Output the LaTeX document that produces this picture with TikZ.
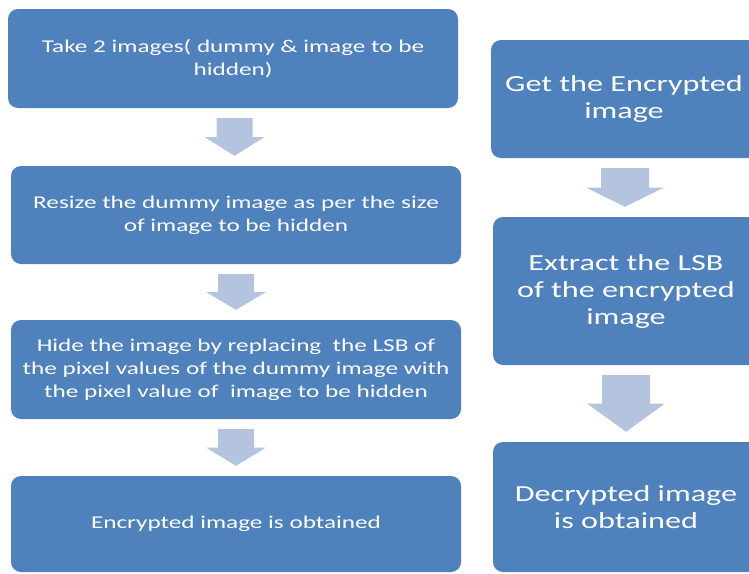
\documentclass[tikz,border=0pt]{standalone}
\usepackage{fontspec}
\setmainfont[FakeStretch=1.4]{Carlito}
\usetikzlibrary{calc}

\definecolor{stepblue}{RGB}{79,129,189}
\definecolor{arrowblue}{RGB}{180,196,222}

% broad block arrow pointing down from one box to the next
% #1 upper node, #2 lower node, #3 half shaft width, #4 half head width
\newcommand\flowarrow[4]{%
  \fill[arrowblue] let \p1=(#1.south), \p2=(#2.north),
      \n1={\y1-10pt}, \n2={\y2+10pt}, \n3={0.5*(\n1+\n2)}, \n4={0.5*(\x1+\x2)} in
    (\n4-#3,\n1) -- (\n4+#3,\n1) -- (\n4+#3,\n3) -- (\n4+#4,\n3)
    -- (\n4,\n2) -- (\n4-#4,\n3) -- (\n4-#3,\n3) -- cycle;}

\begin{document}
\begin{tikzpicture}[x=1pt,y=-1pt,
  flowbox/.style={rectangle, rounded corners=10pt, fill=stepblue, text=white,
    align=center, inner sep=0pt},
  leftbox/.style={flowbox, minimum width=450pt,
    font=\fontsize{18}{23}\selectfont},
  rightbox/.style={flowbox, minimum width=266pt,
    font=\fontsize{23}{27}\selectfont}]

\useasboundingbox (0,0) rectangle (749,573);
\fill[white] (0,0) rectangle (749,573);

% encoding side
\node[leftbox, minimum height=99pt] (b1) at (233,58.5)
  {Take 2 images( dummy \& image to be\\hidden)};
\node[leftbox, minimum height=98pt] (b2) at (236,215)
  {Resize the dummy image as per the size\\of image to be hidden};
\node[leftbox, minimum height=99pt] (b3) at (236,369.5)
  {Hide the image by replacing \ the LSB of\\the pixel values of the dummy image with\\the pixel value of \ image to be hidden};
\node[leftbox, minimum height=96pt] (b4) at (236,524)
  {Encrypted image is obtained};

% decoding side
\node[rightbox, minimum height=118pt] (r1) at (624,99)
  {Get the Encrypted\\image};
\node[rightbox, minimum height=148pt] (r2) at (626,291)
  {Extract the LSB\\of the encrypted\\image};
\node[rightbox, minimum height=130pt] (r3) at (626,507)
  {Decrypted image\\is obtained};

\flowarrow{b1}{b2}{18pt}{30pt}
\flowarrow{b2}{b3}{18pt}{30pt}
\flowarrow{b3}{b4}{18pt}{30pt}
\flowarrow{r1}{r2}{24pt}{39pt}
\flowarrow{r2}{r3}{24pt}{39pt}
\end{tikzpicture}
\end{document}
